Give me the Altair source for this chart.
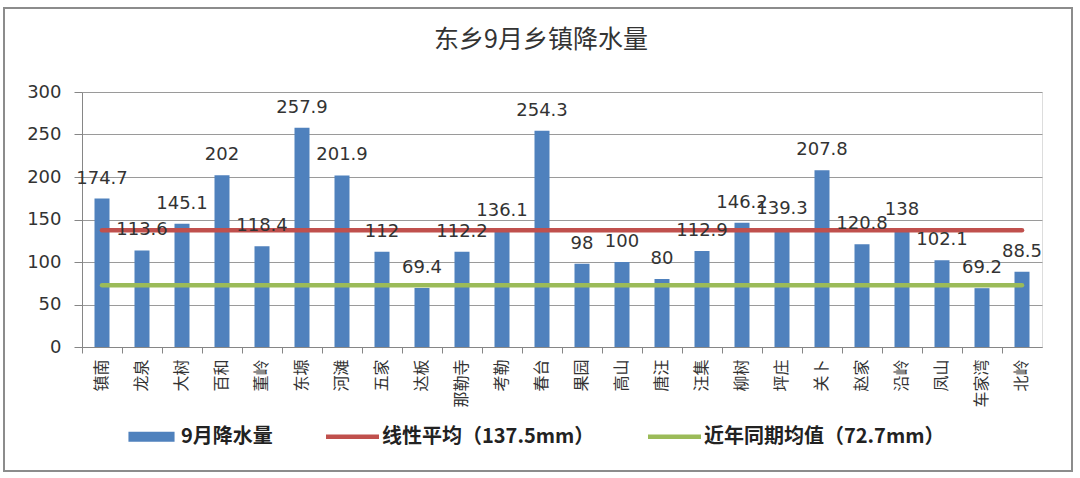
import altair as alt
import pandas as pd

towns = ["镇南", "龙泉", "大树", "百和", "董岭", "东塬", "河滩", "五家", "达板", "那勒寺",
         "考勒", "春台", "果园", "高山", "唐汪", "汪集", "柳树", "坪庄", "关卜", "赵家",
         "沿岭", "凤山", "车家湾", "北岭"]
rain = [174.7, 113.6, 145.1, 202, 118.4, 257.9, 201.9, 112, 69.4, 112.2,
        136.1, 254.3, 98, 100, 80, 112.9, 146.2, 139.3, 207.8, 120.8,
        138, 102.1, 69.2, 88.5]

series_names = ["9月降水量", "线性平均（137.5mm）", "近年同期均值（72.7mm）"]
series_colors = ["#4F81BD", "#C0504D", "#9BBB59"]
avg_values = [137.5, 72.7]

bars_df = pd.DataFrame({"town": towns, "value": rain, "series": series_names[0]})
rules_df = pd.DataFrame({
    "start": [towns[0]] * 2,
    "end": [towns[-1]] * 2,
    "value": avg_values,
    "series": series_names[1:],
})
legend_df = pd.DataFrame({
    "town": [towns[0]] * 3,
    "value": [rain[0]] + avg_values,
    "series": series_names,
})

FONT_NUM = "DejaVu Sans"
FONT_CJK = "Noto Sans CJK SC"

x_scale = alt.Scale(domain=towns, paddingInner=0, paddingOuter=0)
y_scale = alt.Scale(domain=[0, 300])
color_scale = alt.Scale(domain=series_names, range=series_colors)
shape_scale = alt.Scale(
    domain=series_names,
    range=["M-0.87,-0.19H0.87V0.19H-0.87Z",
           "M-1,-0.085H1V0.085H-1Z",
           "M-1,-0.085H1V0.085H-1Z"],
)

x_axis = alt.Axis(
    title=None, labelAngle=270, labelFont=FONT_CJK, labelFontSize=16,
    labelColor="#333333", bandPosition=0, tickSize=6, tickColor="#868686",
    domainColor="#868686", labelPadding=6, grid=False,
)
y_axis = alt.Axis(
    title=None, values=[0, 50, 100, 150, 200, 250, 300], labelFont=FONT_NUM,
    labelFontSize=18, labelColor="#333333", tickSize=8, tickColor="#868686",
    domainColor="#868686", gridColor="#9a9a9a", grid=True, labelPadding=13,
)

base_legend = alt.Legend(
    title=None, orient="none", direction="horizontal", legendX=43, legendY=318,
    labelFont=FONT_CJK, labelFontSize=20, labelFontWeight="bold",
    labelColor="#222222", symbolSize=2809, symbolOpacity=1, labelLimit=0,
    symbolStrokeWidth=0, labelOffset=3, columnPadding=53, columns=3,
)

bars = alt.Chart(bars_df).mark_bar(size=15).encode(
    x=alt.X("town:N", scale=x_scale, axis=x_axis, sort=towns),
    y=alt.Y("value:Q", scale=y_scale, axis=y_axis),
    color=alt.Color("series:N", scale=color_scale, legend=base_legend),
)

labels = alt.Chart(bars_df).mark_text(
    font=FONT_NUM, fontSize=18, color="#333333", baseline="alphabetic", dy=-15,
).encode(
    x=alt.X("town:N", scale=x_scale, sort=towns),
    y=alt.Y("value:Q", scale=y_scale),
    text=alt.Text("value:Q", format="~g"),
)

rules = alt.Chart(rules_df).mark_rule(strokeWidth=4.5, strokeCap="round").encode(
    x=alt.X("start:N", scale=x_scale, sort=towns),
    x2="end:N",
    y=alt.Y("value:Q", scale=y_scale),
    color=alt.Color("series:N", scale=color_scale, legend=base_legend),
)

legend_pts = alt.Chart(legend_df).mark_point(filled=True).encode(
    x=alt.X("town:N", scale=x_scale, sort=towns),
    y=alt.Y("value:Q", scale=y_scale),
    color=alt.Color("series:N", scale=color_scale, legend=base_legend),
    shape=alt.Shape("series:N", scale=shape_scale, legend=base_legend),
    opacity=alt.value(0),
)

border = alt.Chart(pd.DataFrame({"k": [0]})).mark_rect(
    fillOpacity=0, stroke="#8c8c8c", strokeWidth=2,
).encode(
    x=alt.value(-78), x2=alt.value(990), y=alt.value(-84), y2=alt.value(379),
)

chart = alt.layer(bars, rules, labels, legend_pts, border).properties(
    width=960, height=255,
    title=alt.TitleParams(
        "东乡9月乡镇降水量", font=FONT_CJK, fontSize=25, fontWeight="normal",
        color="#333333", anchor="middle", offset=-46, dx=-21,
    ),
    autosize=alt.AutoSizeParams(type="none"),
    padding={"left": 82, "top": 92, "right": 38, "bottom": 131},
).configure_view(stroke=None).configure(background="white")

chart.save("out.html", embed_options={"renderer": "svg", "actions": False})
